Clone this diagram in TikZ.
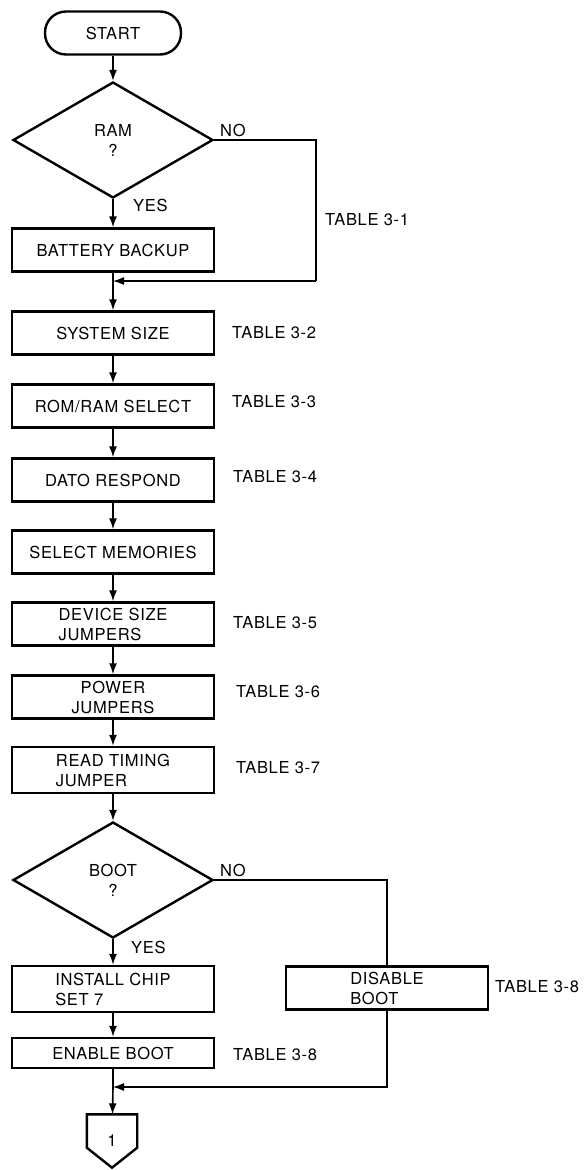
\documentclass[tikz,border=0pt]{standalone}
\usepackage{fontspec}
\setmainfont{TeX Gyre Heros}[LetterSpace=4]
\usetikzlibrary{shapes.geometric, arrows.meta, positioning}

\begin{document}
\begin{tikzpicture}[x=1pt, y=-1pt,
        font=\fontsize{16.5}{20}\selectfont,
        procbox/.style={draw, line width=2.4pt, minimum width=202pt, minimum height=43pt, inner sep=2pt, align=center},
        startbox/.style={draw, line width=2.4pt, rounded corners=21pt, minimum width=136pt, minimum height=43pt},
        decision/.style={draw, diamond, line width=2.4pt, minimum width=200pt, minimum height=116pt, inner sep=0pt, align=center},
        offpage/.style={inner sep=0pt, minimum width=50pt, minimum height=53pt},
        tablelbl/.style={anchor=west, inner sep=0pt},
        flow/.style={-{Latex[length=11pt, width=8pt]}, line width=1.6pt},
        trunk/.style={line width=1.6pt},
        branch/.style={line width=1.2pt}]
        \fill[white] (0,0) rectangle (585,1170);
        \useasboundingbox (0,0) rectangle (585,1170);

        \node[startbox] at (113,33) (start) {START};
        \node[decision] at (113,140) (ram) {RAM\\?};
        \node[procbox] at (113,250) (battery) {BATTERY BACKUP};
        \node[procbox] at (113,333) (syssize) {SYSTEM SIZE};
        \node[procbox] at (113,406) (romram) {ROM/RAM SELECT};
        \node[procbox] at (113,480) (dato) {DATO RESPOND};
        \node[procbox] at (113,552) (selmem) {SELECT MEMORIES};
        \node[procbox, align=left] at (113,624) (devsize) {DEVICE SIZE\\JUMPERS};
        \node[procbox] at (113,697) (power) {POWER\\JUMPERS};
        \node[procbox, align=left, minimum height=46pt] at (113,770) (timing) {READ TIMING\\JUMPER};
        \node[decision] at (113,880) (boot) {BOOT\\?};
        \node[procbox, align=left, minimum height=46pt] at (113,989) (install) {INSTALL CHIP\\SET 7};
        \node[procbox, align=left] at (387,988) (disable) {DISABLE\\BOOT};
        \node[procbox, minimum height=30pt] at (113,1053) (enable) {ENABLE BOOT};
        \node[offpage] at (112,1141) (conn) {1};
        \draw[line width=2.4pt] (conn.north west) -- (conn.north east) -- ([yshift=20pt]conn.south east)
            -- (conn.south) -- ([yshift=20pt]conn.south west) -- cycle;

        \node[tablelbl] at (220,130) (ramno) {NO};
        \node[tablelbl] at (133,205) (ramyes) {YES};
        \node[tablelbl] at (220,870) (bootno) {NO};
        \node[tablelbl] at (131,947) (bootyes) {YES};

        \node[tablelbl] at (325,220) (tab1) {TABLE 3-1};
        \node[tablelbl] at (232,333) (tab2) {TABLE 3-2};
        \node[tablelbl] at (232,402) (tab3) {TABLE 3-3};
        \node[tablelbl] at (233,477) (tab4) {TABLE 3-4};
        \node[tablelbl] at (233,623) (tab5) {TABLE 3-5};
        \node[tablelbl] at (236,692) (tab6) {TABLE 3-6};
        \node[tablelbl] at (236,768) (tab7) {TABLE 3-7};
        \node[tablelbl] at (495,987) (tab8a) {TABLE 3-8};
        \node[tablelbl] at (233,1055) (tab8b) {TABLE 3-8};

        \coordinate (join1) at (113,281);
        \coordinate (bend1) at (316,281);
        \coordinate (join2) at (113,1087);

        \draw[flow] (start) -- (ram);
        \draw[flow] (ram) -- (battery);
        \draw[branch] (ram.east) -| (bend1);
        \draw[flow, branch] (bend1) -- (join1);
        \draw[trunk] (battery) -- (join1);
        \draw[flow] (join1) -- (syssize);
        \foreach \a/\b in {syssize/romram, romram/dato, dato/selmem, selmem/devsize, devsize/power, power/timing, timing/boot, boot/install, install/enable}
            \draw[flow] (\a) -- (\b);
        \draw[branch] (boot.east) -| (disable);
        \draw[flow, branch] (disable) |- (join2);
        \draw[trunk] (enable) -- (join2);
        \draw[flow] (join2) -- (conn);
    \end{tikzpicture}
\end{document}
